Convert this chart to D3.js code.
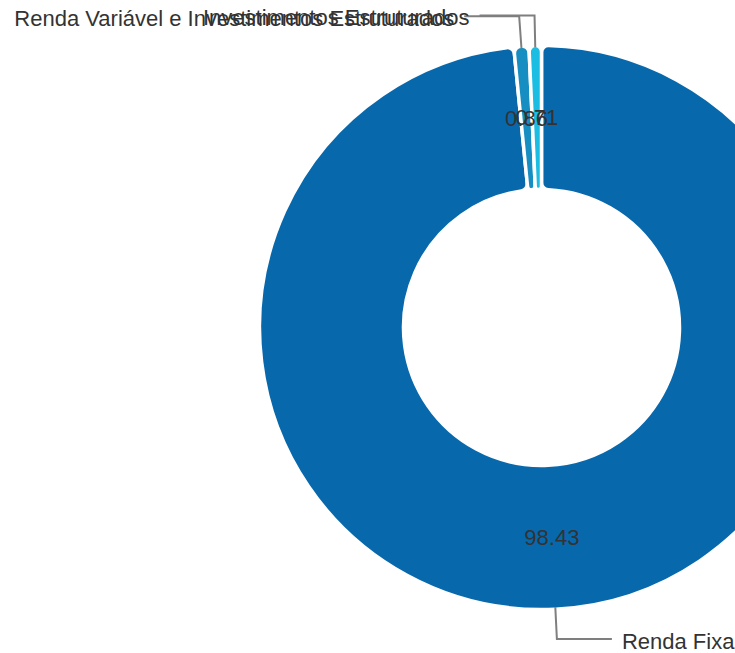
<!DOCTYPE html>
<html>
<head>
<meta charset="utf-8">
<script src="https://cdn.jsdelivr.net/npm/d3@7"></script>
<style>
    html, body { margin: 0; padding: 0; background: #fff; }
    #canva { width: 735px; height: 653px; overflow: hidden; }
    svg { display: block; }
</style>
</head>
<body>
<div id="canva"></div>
<script>
const categories = ['Renda Fixa', 'Renda Variável e Investimentos Estruturados', 'Investimentos Estruturados'];
const values = [98.43, 0.86, 0.71];
const palette = ['#0868ac', '#168ec2', '#1bbde2'];

function graphCarteira() {
    const width = 735;
    const height = 653;
    const cx = 541.5;
    const cy = 327.5;
    const outer = 282;
    const inner = 138;
    const length1 = 30;
    const length2 = 55;

    const data = categories.map((name, i) => ({ name, value: values[i] }));

    const color = d3.scaleOrdinal()
                .domain(categories)
                .range(palette);

    const svg = d3.select('#canva').append('svg')
                .attr('width', width)
                .attr('height', height)
                .attr('viewBox', `0 0 ${width} ${height}`);

    const g = svg.append('g')
                .attr('transform', `translate(${cx},${cy})`);

    const pie = d3.pie()
                .sort(null)
                .value(d => d.value);

    const arcs = pie(data);

    const arc = d3.arc()
                .innerRadius(inner)
                .outerRadius(outer)
                .cornerRadius(7);

    g.selectAll('path')
        .data(arcs)
        .enter()
        .append('path')
        .attr('d', arc)
        .attr('fill', d => color(d.data.name))
        .attr('stroke', '#fff')
        .attr('stroke-width', 3.5)
        .attr('stroke-linejoin', 'round');

    const mid = d => (d.startAngle + d.endAngle) / 2;
    const at = (a, r) => [Math.sin(a) * r, -Math.cos(a) * r];

    g.selectAll('text.value')
        .data(arcs)
        .enter()
        .append('text')
        .attr('class', 'value')
        .attr('x', d => at(mid(d), (inner + outer) / 2)[0])
        .attr('y', d => at(mid(d), (inner + outer) / 2)[1])
        .attr('text-anchor', 'middle')
        .attr('dominant-baseline', 'central')
        .attr('font-family', '"Liberation Sans", Arial, sans-serif')
        .attr('font-size', 22)
        .attr('fill', '#333')
        .text(d => d3.format('.2f')(d.data.value));

    const lineData = arcs.map(d => {
        const a = mid(d);
        const left = a > Math.PI;
        const p1 = at(a, outer - 2);
        const p2 = at(a, outer + length1);
        const p3 = [p2[0] + (left ? -length2 : length2), p2[1]];
        return { d, left, points: [p1, p2, p3] };
    });

    g.selectAll('polyline')
        .data(lineData)
        .enter()
        .append('polyline')
        .attr('points', l => l.points.map(p => p.join(',')).join(' '))
        .attr('fill', 'none')
        .attr('stroke', '#7f7f7f')
        .attr('stroke-width', 2);

    g.selectAll('text.name')
        .data(lineData)
        .enter()
        .append('text')
        .attr('class', 'name')
        .attr('x', l => l.points[2][0] + (l.left ? -10 : 10))
        .attr('y', l => l.points[2][1] + 2)
        .attr('text-anchor', l => l.left ? 'end' : 'start')
        .attr('dominant-baseline', 'central')
        .attr('font-family', '"Liberation Sans", Arial, sans-serif')
        .attr('font-size', 22)
        .attr('fill', '#333')
        .text(l => l.d.data.name);

    return svg.node();
}

graphCarteira();
</script>
</body>
</html>
